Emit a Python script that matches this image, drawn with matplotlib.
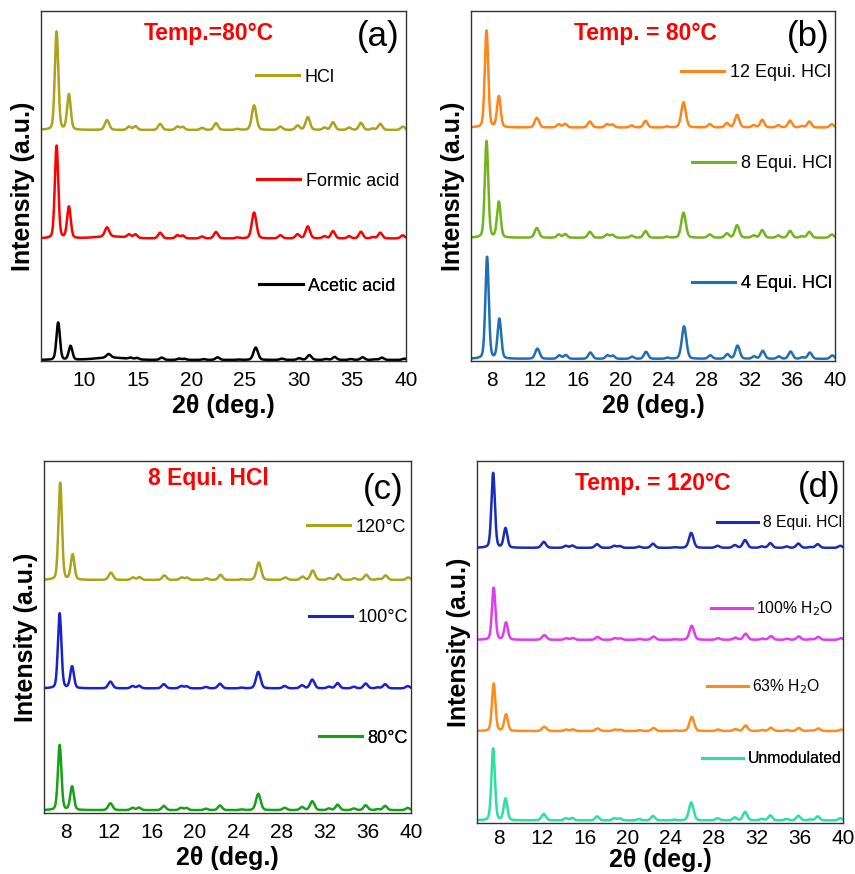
import numpy as np
import matplotlib
matplotlib.use("Agg")
import matplotlib.pyplot as plt

plt.rcParams['font.family'] = ['Liberation Sans', 'DejaVu Sans']

# peak list (2theta, relative height, fwhm)
peak_pos = [7.45, 8.6, 12.15, 14.2, 14.8, 17.1, 18.7, 19.2, 21.0, 22.3, 24.3, 25.85,
            28.3, 29.9, 30.85, 32.4, 33.2, 34.7, 35.8, 36.9, 37.6, 39.7]
peak_rel = [1.0, 0.32, 0.10, 0.034, 0.038, 0.062, 0.034, 0.031, 0.021, 0.069, 0.01, 0.26,
            0.034, 0.045, 0.13, 0.024, 0.079, 0.024, 0.072, 0.014, 0.062, 0.034]
peak_fwhm = [0.38, 0.4, 0.48, 0.42, 0.42, 0.45, 0.42, 0.42, 0.42, 0.45, 0.42, 0.5,
             0.45, 0.45, 0.48, 0.42, 0.45, 0.42, 0.45, 0.42, 0.45, 0.45]

# panel (a)
a_labels = ["HCl", "Formic acid", "Acetic acid"]
a_colors = ["#ADA21A", "#FF0000", "#000000"]
a_offset = [0.66, 0.35, 0.003]
a_amp = [0.281, 0.265, 0.107]
a_p2 = [0.36, 0.34, 0.37]
a_p26 = [0.25, 0.28, 0.33]
a_minor = [1.0, 1.0, 1.0]
a_shift = [0.0, 0.0, 0.15]
a_hump = [0.0, 0.02, 0.06]

# panel (b)
b_labels = ["12 Equi. HCl", "8 Equi. HCl", "4 Equi. HCl"]
b_colors = ["#FF8419", "#72B41E", "#1F6FB8"]
b_offset = [0.667, 0.352, 0.006]
b_amp = [0.277, 0.276, 0.291]
b_p2 = [0.32, 0.37, 0.39]
b_p26 = [0.26, 0.26, 0.32]
b_minor = [1.0, 1.0, 1.0]
b_shift = [0.0, 0.0, 0.05]
b_hump = [0.0, 0.0, 0.0]

# panel (c)
c_labels = ["120°C", "100°C", "80°C"]
c_colors = ["#ADA21A", "#1A22CC", "#18A018"]
c_offset = [0.662, 0.354, 0.008]
c_amp = [0.276, 0.213, 0.185]
c_p2 = [0.26, 0.29, 0.36]
c_p26 = [0.18, 0.22, 0.25]
c_minor = [0.75, 0.9, 1.05]
c_shift = [0.05, 0.0, 0.0]
c_hump = [0.0, 0.0, 0.0]

# panel (d)
d_labels = ["8 Equi. HCl", "100% H$_2$O", "63% H$_2$O", "Unmodulated"]
d_colors = ["#1A2BB8", "#E03CF0", "#FF8C1A", "#2EE0A0"]
d_offset = [0.760, 0.506, 0.254, 0.007]
d_amp = [0.207, 0.144, 0.131, 0.199]
d_p2 = [0.26, 0.33, 0.35, 0.30]
d_p26 = [0.20, 0.27, 0.30, 0.25]
d_minor = [0.8, 0.9, 0.9, 0.9]
d_shift = [0.05, 0.1, 0.1, 0.05]
d_hump = [0.0, 0.0, 0.0, 0.0]

x = np.linspace(6, 40, 3401)


def pattern(amp, p2, p26, minor, shift, hump):
    y = np.zeros_like(x)
    for i, (p, r, w) in enumerate(zip(peak_pos, peak_rel, peak_fwhm)):
        if i == 0:
            h = 1.0
        elif i == 1:
            h = p2
        elif i == 11:
            h = p26
        else:
            h = r * minor
        s = w / 2.355
        g = np.exp(-0.5 * ((x - p - shift) / s) ** 2)
        lz = 1 / (1 + ((x - p - shift) / (w / 2)) ** 2)
        y += h * (0.75 * g + 0.25 * lz)
    y += hump * np.exp(-0.5 * ((x - 12.5) / 1.5) ** 2)
    return amp * y


W, H = 855, 874


def make_ax(l, r, t, b):
    return fig.add_axes([l / W, 1 - b / H, (r - l) / W, (b - t) / H])


fig = plt.figure(figsize=(W / 100, H / 100), dpi=100)

panels = [
    (make_ax(41, 406, 11, 361), a_labels, a_colors, a_offset, a_amp, a_p2, a_p26, a_minor, a_shift, a_hump,
     "Temp.=80°C", (0.46, 0.937), "(a)", (0.924, 0.926), [10, 15, 20, 25, 30, 35, 40],
     [(0.589, 0.811), (0.592, 0.514), (0.598, 0.214)], 13, 7),
    (make_ax(471, 835, 11, 361), b_labels, b_colors, b_offset, b_amp, b_p2, b_p26, b_minor, b_shift, b_hump,
     "Temp. = 80°C", (0.48, 0.937), "(b)", (0.926, 0.926), [8, 12, 16, 20, 24, 28, 32, 36, 40],
     [(0.577, 0.823), (0.607, 0.563), (0.607, 0.22)], 13, 7),
    (make_ax(44, 411, 461, 813), c_labels, c_colors, c_offset, c_amp, c_p2, c_p26, c_minor, c_shift, c_hump,
     "8 Equi. HCl", (0.447, 0.949), "(c)", (0.924, 0.918), [8, 12, 16, 20, 24, 28, 32, 36, 40],
     [(0.717, 0.8125), (0.722, 0.554), (0.749, 0.213)], 13, 7),
    (make_ax(477, 843, 461, 823), d_labels, d_colors, d_offset, d_amp, d_p2, d_p26, d_minor, d_shift, d_hump,
     "Temp. = 120°C", (0.48, 0.939), "(d)", (0.934, 0.928), [8, 12, 16, 20, 24, 28, 32, 36, 40],
     [(0.656, 0.829), (0.639, 0.591), (0.628, 0.376), (0.615, 0.177)], 11.3, 4),
]

for (ax, labels, colors, offs, amps, p2s, p26s, minors, shifts, humps,
     title, tpos, tag, tagpos, ticks, legpos, lfs, tpad) in panels:
    for i in range(len(labels)):
        y = offs[i] + pattern(amps[i], p2s[i], p26s[i], minors[i], shifts[i], humps[i])
        line, = ax.plot(x, y, color=colors[i], lw=1.8)
        leg = ax.legend([line], [labels[i]], loc="center left", bbox_to_anchor=legpos[i],
                        frameon=False, borderpad=0, borderaxespad=0,
                        handlelength=2.4 if lfs > 12 else 2.6, handletextpad=0.3,
                        prop={"size": lfs})
        leg.get_lines()[0].set_linewidth(2.2)
        ax.add_artist(leg)
    ax.set_xticks(ticks)
    ax.set_xlim(6, 40)
    ax.set_ylim(0, 1)
    ax.set_yticks([])
    ax.tick_params(axis="x", length=0, pad=tpad, labelsize=15)
    for sp in ax.spines.values():
        sp.set_color("#333333")
        sp.set_linewidth(1.0)
    ax.set_xlabel("2θ (deg.)", fontsize=18, fontweight="bold", labelpad=3 if tpad > 5 else 0)
    ax.set_ylabel("Intensity (a.u.)", fontsize=18, fontweight="bold", labelpad=4)
    ax.text(tpos[0], tpos[1], title, transform=ax.transAxes, color="red",
            fontsize=16.5, fontweight="bold", ha="center", va="center")
    ax.text(tagpos[0], tagpos[1], tag, transform=ax.transAxes, color="black",
            fontsize=25, ha="center", va="center")

fig.savefig("out.png", dpi=100)
